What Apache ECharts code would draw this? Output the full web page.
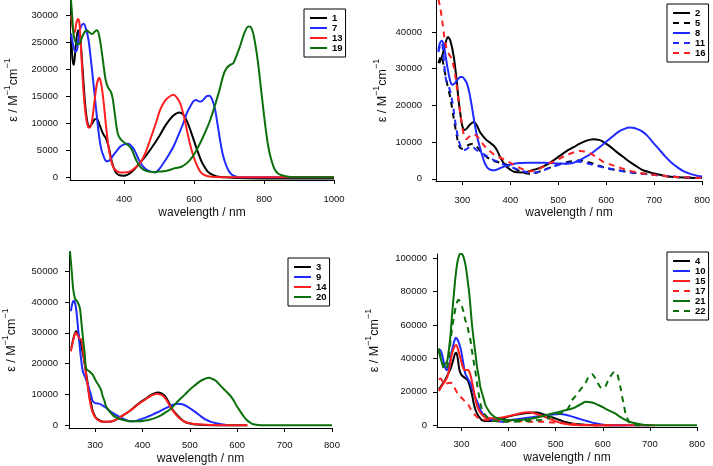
<!DOCTYPE html>
<html><head><meta charset="utf-8">
<script src="https://cdn.jsdelivr.net/npm/echarts@6/dist/echarts.min.js"></script>
<style>html,body{margin:0;padding:0;background:#fff}#c{width:713px;height:466px}</style>
</head><body><div id="c"></div>
<script>
// ---- Panel A (top-left): compounds 1, 7, 13, 19 ----
const s1 = [[248,26600],[252,22000],[256,20800],[261,24000],[268,27200],[274,26000],[281,20000],[289,13000],[296,9800],[301,9400],[308,9900],[315,10700],[322,10800],[330,9600],[340,8000],[348,7200],[356,5500],[365,2800],[375,1000],[385,400],[398,300],[410,500],[425,1200],[440,2300],[460,3800],[480,5600],[500,7600],[520,9800],[540,11400],[558,12000],[570,11500],[580,10300],[590,8600],[600,6700],[610,4800],[620,3100],[630,1900],[640,1000],[655,400],[670,100],[690,0],[720,-150],[800,-200],[1000,-200]];
const s7 = [[248,26500],[254,24500],[260,23200],[265,23600],[270,26000],[277,28000],[284,28400],[290,27600],[298,25400],[305,21600],[312,17400],[320,12400],[327,8200],[334,5300],[341,3900],[347,3100],[353,2950],[361,3400],[370,4200],[380,5000],[389,5700],[400,6100],[412,6200],[422,5700],[431,4800],[440,3500],[450,2300],[462,1500],[474,1100],[489,900],[500,1500],[512,2600],[526,4000],[541,5700],[555,7800],[569,10000],[580,12000],[589,13100],[597,14000],[605,14300],[612,14100],[619,14000],[627,14400],[636,15000],[644,15100],[652,14300],[660,12500],[667,9800],[674,6950],[681,4500],[689,2650],[698,1300],[707,500],[718,150],[731,0],[1000,0]];
const s13 = [[248,30000],[253,27500],[258,26800],[263,28500],[268,29300],[272,28500],[276,24500],[281,18500],[286,14000],[291,11000],[297,9300],[302,9200],[308,10500],[315,14000],[322,17300],[329,18400],[335,17000],[341,14000],[348,9500],[355,5700],[362,3200],[370,1700],[380,1100],[389,900],[400,900],[417,1100],[430,1700],[446,2700],[460,4400],[474,6900],[490,9900],[503,12500],[517,14200],[531,15000],[541,15250],[550,14800],[560,13700],[570,11500],[579,8800],[588,6200],[598,3900],[608,2200],[617,1100],[627,500],[640,200],[660,50],[700,0],[1000,0]];
const s19 = [[247,33500],[251,30000],[255,26500],[260,25200],[266,24600],[272,24700],[280,26000],[287,26900],[293,27200],[300,26800],[308,26500],[315,26900],[322,27200],[327,26600],[333,24500],[340,21200],[347,18000],[354,16600],[362,15800],[367,14600],[372,12300],[377,9800],[382,8000],[390,7000],[403,6300],[412,5900],[422,5100],[430,3800],[436,2950],[445,2000],[455,1400],[470,1050],[484,1000],[498,1050],[512,1100],[527,1300],[541,1600],[555,1800],[565,2000],[577,2500],[589,3250],[603,4600],[617,6300],[632,8400],[646,10600],[660,13400],[674,16500],[684,19000],[693,20200],[703,20800],[712,21100],[720,22300],[731,24200],[743,26600],[755,27900],[762,27800],[769,26600],[777,23800],[784,20500],[791,16500],[798,12500],[805,8800],[812,5700],[820,3400],[831,1400],[842,600],[855,300],[870,100],[884,0],[1000,0]];

// ---- Panel B (top-right): compounds 2, 5, 8, 11, 16 ----
const s2 = [[252,31500],[258,33500],[264,36500],[270,38600],[275,37600],[282,33300],[288,27000],[292,21500],[296,17500],[300,14300],[305,13300],[310,13800],[316,14800],[324,15500],[330,14600],[336,12900],[343,11600],[350,10600],[358,9800],[367,8800],[373,7600],[380,5600],[391,3400],[400,2500],[408,1900],[422,1700],[436,1900],[449,2450],[463,3000],[477,3900],[490,5000],[504,6300],[518,7600],[532,8600],[545,9600],[559,10400],[573,10800],[585,10600],[593,10150],[607,8900],[621,7400],[635,6000],[648,4700],[662,3500],[675,2450],[690,1800],[703,1350],[730,650],[764,350],[800,200]];
const s5 = [[250,31500],[256,33500],[262,30000],[268,26000],[275,22000],[282,16500],[288,12000],[293,9000],[299,8200],[305,8500],[312,9200],[320,9500],[328,9000],[340,7200],[350,6000],[360,5200],[370,4700],[381,4300],[391,3900],[401,3350],[415,2400],[429,1550],[442,1350],[456,1700],[470,2450],[484,3100],[497,3800],[511,4300],[525,4700],[545,5000],[559,4700],[573,4100],[587,3500],[600,2900],[620,2400],[641,2000],[662,1600],[682,1350],[705,1000],[730,650],[760,400],[800,200]];
const s8 = [[250,35000],[253,36800],[257,37600],[261,36500],[265,33500],[270,29500],[275,26500],[279,25600],[284,26000],[290,27000],[296,27700],[300,27700],[305,27000],[310,25800],[315,23200],[320,19500],[325,15500],[330,12000],[336,8800],[341,6500],[347,4200],[353,2900],[360,2400],[367,2300],[377,2800],[388,3400],[398,3800],[408,4100],[422,4300],[436,4400],[450,4400],[463,4400],[477,4300],[490,4250],[504,4150],[518,4100],[530,4300],[538,4700],[548,5300],[559,6100],[569,6900],[579,7900],[590,9000],[600,10100],[613,11500],[627,12900],[638,13600],[648,14000],[655,13900],[664,13600],[675,12900],[686,11700],[696,10150],[710,8100],[723,6100],[737,4300],[751,2900],[762,2000],[771,1550],[785,1000],[800,600]];
const s11 = [[250,34500],[254,36500],[257,37000],[260,34500],[264,28500],[268,26000],[272,25000],[277,22500],[282,18500],[287,14000],[292,10600],[297,8600],[302,7800],[308,8000],[314,8600],[320,8900],[326,8200],[333,7500],[340,7000],[347,6500],[357,5700],[367,5000],[378,4400],[388,3800],[398,3200],[408,2900],[418,2400],[429,2000],[439,1600],[451,1700],[463,2000],[477,2700],[490,3350],[504,3900],[518,4250],[530,4550],[538,4700],[548,4600],[559,4250],[572,3800],[586,3350],[603,2900],[621,2450],[638,2000],[655,1700],[676,1350],[696,1100],[716,850],[737,650],[765,400],[800,200]];
const s16 = [[250,49000],[254,46500],[258,43000],[262,39000],[267,35500],[272,34000],[277,32800],[282,30500],[287,26500],[292,21500],[296,17500],[300,14000],[304,11500],[308,10800],[313,11300],[319,12000],[325,12000],[333,11200],[340,10000],[347,8800],[357,7600],[367,6500],[378,5800],[388,5200],[398,4500],[408,3800],[418,3100],[429,2450],[442,2000],[452,2300],[463,2900],[476,3800],[490,4700],[504,5600],[518,6500],[530,7100],[545,7600],[556,7400],[566,7000],[580,5900],[593,4700],[607,4000],[621,3350],[635,2750],[648,2250],[665,1750],[682,1350],[705,1000],[730,650],[765,400],[800,200]];

// ---- Panel C (bottom-left): compounds 3, 9, 14, 20 ----
const s3 = [[250,25000],[255,28500],[260,30500],[264,29800],[267,27800],[271,25800],[274,23500],[278,20000],[281,17000],[285,13000],[288,9500],[292,6800],[295,4600],[299,3200],[302,2400],[307,1800],[313,1300],[321,1100],[330,1100],[340,1500],[352,2500],[362,3500],[373,4600],[383,5900],[394,7300],[405,8400],[415,9500],[425,10300],[433,10600],[440,10300],[447,9500],[454,7900],[461,5700],[468,4200],[475,3000],[482,1900],[489,1100],[496,700],[503,500],[515,200],[530,50],[550,0],[620,0]];
const s9 = [[249,37000],[252,39500],[255,40400],[258,39500],[261,36500],[265,30000],[269,23500],[274,17600],[278,16000],[281,14800],[285,13200],[288,11600],[292,9500],[295,7800],[299,7300],[302,7100],[308,7000],[313,6700],[318,6200],[323,5700],[330,4800],[337,4000],[346,3200],[355,2400],[364,1800],[373,1300],[383,1300],[394,1800],[405,2400],[415,3000],[426,3800],[437,4600],[447,5400],[458,6200],[466,6700],[475,7000],[484,6800],[493,6200],[503,5200],[514,4000],[524,2800],[535,1700],[546,1000],[556,650],[566,300],[577,100]];
const s14 = [[249,24000],[253,27000],[257,29500],[260,30000],[263,29200],[267,28200],[271,27800],[274,25000],[278,20300],[281,16300],[285,12200],[288,8800],[292,5700],[296,3800],[302,2200],[308,1500],[313,1200],[321,1100],[330,1100],[340,1500],[352,2500],[362,3500],[373,4600],[383,5800],[394,7100],[405,8200],[415,9300],[422,9800],[430,10200],[437,10000],[444,9500],[451,8100],[458,6200],[465,4600],[472,3200],[479,2200],[486,1400],[493,900],[500,650],[510,400],[525,200],[545,50],[570,0],[622,0]];
const s20 = [[247,56500],[249,53000],[251,49400],[254,44000],[258,41000],[263,40000],[268,38000],[272,32000],[275,27500],[278,23400],[281,18500],[285,17800],[288,17500],[295,16400],[302,14300],[309,12600],[313,11300],[316,9500],[320,7800],[323,6200],[328,5000],[333,4000],[338,3200],[344,2600],[351,2100],[358,1800],[373,1300],[394,1300],[405,1500],[415,1800],[426,2300],[437,3000],[447,4000],[458,5100],[468,6700],[479,8400],[490,10000],[500,11600],[511,13000],[522,14300],[531,15000],[540,15400],[548,15000],[556,14300],[566,12600],[577,10900],[584,9800],[591,8400],[598,6500],[606,4600],[613,3000],[620,1700],[627,900],[634,300],[645,80],[655,0],[800,0]];

// ---- Panel D (bottom-right): compounds 4, 10, 15, 17, 21, 22 ----
const s4 = [[252,21500],[258,24000],[265,27000],[272,31000],[277,34000],[282,38500],[286,42500],[289,43400],[292,40000],[295,34000],[299,30500],[304,29000],[309,28000],[314,26500],[319,22000],[323,17500],[326,13000],[330,9000],[335,6000],[340,4200],[344,3000],[351,2600],[358,2600],[367,2800],[376,3000],[387,4000],[397,5000],[408,5800],[418,6400],[428,6900],[439,7400],[450,7600],[460,7600],[470,7000],[480,6000],[490,5000],[500,4000],[510,3000],[520,2000],[535,1100],[550,600],[570,200],[600,0],[650,0]];
const s10 = [[252,44000],[255,45000],[259,42000],[263,37000],[266,34000],[270,33000],[275,37500],[280,45000],[284,49500],[288,52400],[292,51000],[298,46000],[303,38500],[308,31000],[313,28000],[319,25000],[324,21000],[329,17000],[335,13000],[340,9200],[346,6500],[351,4800],[358,3800],[365,3200],[374,2600],[383,2200],[393,2500],[404,3200],[418,3700],[432,4200],[450,4900],[467,5600],[485,6200],[502,6600],[509,6700],[521,6300],[535,5200],[549,4000],[563,2800],[574,1900],[584,1200],[595,600],[605,200],[620,0],[700,0]];
const s15 = [[252,20500],[256,22500],[263,25500],[270,29000],[275,35000],[280,43000],[285,47000],[289,48000],[292,46000],[296,42000],[300,37500],[304,34000],[308,33000],[312,33000],[316,32500],[320,29000],[323,25000],[326,21000],[330,15000],[334,11000],[337,9000],[342,6800],[348,5200],[355,4500],[362,4200],[372,4300],[383,4600],[394,5100],[404,5800],[415,6500],[425,7200],[434,7600],[443,7800],[452,7400],[460,6800],[471,5700],[481,4600],[491,3400],[502,2200],[512,1400],[523,800],[533,400],[544,200],[560,50],[580,0],[710,0]];
const s17 = [[252,27500],[256,28000],[260,26000],[264,24500],[270,25200],[277,25400],[282,24500],[287,21500],[294,18000],[300,16500],[305,15000],[310,13500],[315,12000],[320,9500],[326,7000],[331,5500],[337,4200],[346,3500],[355,3200],[369,3000],[383,2800],[397,2700],[411,2600],[425,2400],[439,2200],[453,2200],[467,2200],[483,1900],[500,1600],[517,1200],[535,800],[552,400],[570,100],[590,0],[620,0]];
const s21 = [[252,46000],[255,41000],[259,37000],[263,36000],[267,37000],[270,39000],[274,47000],[277,55000],[280,66000],[284,79000],[287,88000],[291,97000],[295,101500],[298,102800],[302,102000],[305,100000],[309,95000],[312,89000],[316,80000],[319,71000],[322,61000],[326,51000],[330,42000],[333,35000],[337,28500],[340,23000],[346,17000],[351,12000],[357,9000],[362,7000],[369,5300],[376,4200],[386,3500],[397,3200],[411,3100],[425,3200],[439,3600],[453,4200],[467,5100],[481,6200],[495,7200],[509,8200],[523,9200],[537,10200],[549,12000],[556,13000],[563,14100],[570,14000],[577,13600],[584,13000],[594,11700],[605,10000],[616,8500],[627,7000],[637,5000],[648,3200],[658,2000],[669,1200],[680,600],[690,200],[700,0],[800,0]];
const s22 = [[252,44000],[256,40000],[260,36000],[264,33000],[268,34000],[272,38000],[277,51000],[281,60000],[284,65000],[288,71000],[291,74000],[294,75000],[298,73000],[301,71000],[305,67000],[308,63000],[312,60000],[315,56000],[319,51000],[322,45000],[326,38000],[330,31000],[333,25000],[337,18000],[342,11000],[348,7000],[355,4800],[362,3200],[372,2600],[383,2200],[397,2100],[411,2200],[425,2400],[439,2600],[453,2900],[467,3200],[480,4000],[490,5000],[500,6200],[510,7200],[521,8200],[528,11000],[535,15100],[542,17500],[549,20100],[556,22500],[563,25100],[570,29100],[577,30700],[582,29000],[588,26100],[593,23500],[598,22100],[605,23100],[610,26000],[616,29100],[622,31500],[627,32000],[631,30500],[634,27100],[638,22000],[641,17100],[645,12000],[648,7200],[652,4500],[655,2200],[659,1200],[662,600],[670,200],[680,0]];

// tick values
const xTicksA = [400, 600, 800, 1000];
const xTicksB = [300, 400, 500, 600, 700, 800];
const yTicksA = [0, 5000, 10000, 15000, 20000, 25000, 30000];
const yTicksB = [0, 10000, 20000, 30000, 40000];
const yTicksC = [0, 10000, 20000, 30000, 40000, 50000];
const yTicksD = [0, 20000, 40000, 60000, 80000, 100000];

const COL = { k: '#000000', b: '#1f2bff', r: '#ff1f1f', g: '#0b700b' };
const FONT = 'Liberation Sans';

const panels = [
  { grid: { left: 70, top: 0, width: 264, height: 180 }, x: [245, 1000], xt: xTicksA, y: [-500, 32800], yt: yTicksA,
    yGap: 50, xGap: 27, xm: 14, ym: 12, legend: { left: 304, top: 9 },
    series: [['1', s1, 'k', 'solid'], ['7', s7, 'b', 'solid'], ['13', s13, 'r', 'solid'], ['19', s19, 'g', 'solid']] },
  { grid: { left: 436, top: 0, width: 267, height: 181 }, x: [245, 800], xt: xTicksB, y: [-600, 48700], yt: yTicksB,
    yGap: 47, xGap: 26, xm: 14, ym: 14, legend: { left: 667, top: 4 },
    series: [['2', s2, 'k', 'solid'], ['5', s5, 'k', 'dashed'], ['8', s8, 'b', 'solid'], ['11', s11, 'b', 'dashed'], ['16', s16, 'r', 'dashed']] },
  { grid: { left: 69, top: 252, width: 263, height: 177 }, x: [245, 800], xt: xTicksB, y: [-900, 56200], yt: yTicksC,
    yGap: 51, xGap: 25, xm: 12, ym: 11, legend: { left: 288, top: 258 },
    series: [['3', s3, 'k', 'solid'], ['9', s9, 'b', 'solid'], ['14', s14, 'r', 'solid'], ['20', s20, 'g', 'solid']] },
  { grid: { left: 437, top: 254, width: 260, height: 173 }, x: [248, 800], xt: xTicksB, y: [-1000, 102400], yt: yTicksD,
    yGap: 56, xGap: 25, xm: 12, ym: 10, legend: { left: 667, top: 252 },
    series: [['4', s4, 'k', 'solid'], ['10', s10, 'b', 'solid'], ['15', s15, 'r', 'solid'], ['17', s17, 'r', 'dashed'], ['21', s21, 'g', 'solid'], ['22', s22, 'g', 'dashed']] }
];

const grid = [], xAxis = [], yAxis = [], legend = [], series = [];
panels.forEach((p, i) => {
  grid.push(p.grid);
  xAxis.push({
    gridIndex: i, type: 'value', min: p.x[0], max: p.x[1],
    axisLine: { onZero: false, lineStyle: { color: '#000', width: 1 } },
    axisTick: { customValues: p.xt, length: 4, lineStyle: { color: '#000' } },
    axisLabel: { customValues: p.xt, formatter: v => String(v), color: '#111', fontSize: 9.5, fontFamily: FONT, margin: p.xm },
    splitLine: { show: false },
    name: 'wavelength / nm', nameLocation: 'middle', nameGap: p.xGap,
    nameTextStyle: { fontSize: 12, color: '#111', fontFamily: FONT }
  });
  yAxis.push({
    gridIndex: i, type: 'value', min: p.y[0], max: p.y[1],
    axisLine: { onZero: false, lineStyle: { color: '#000', width: 1 } },
    axisTick: { customValues: p.yt, length: 4, lineStyle: { color: '#000' } },
    axisLabel: { customValues: p.yt, formatter: v => String(v), color: '#111', fontSize: 9.5, fontFamily: FONT, margin: p.ym },
    splitLine: { show: false },
    name: '{n|ε / M}{s|−1}{n|cm}{s|−1}', nameLocation: 'middle', nameGap: p.yGap, nameRotate: 90,
    nameTextStyle: {
      color: '#111', fontFamily: FONT, fontSize: 12,
      rich: {
        n: { fontSize: 12.5, color: '#111', fontFamily: FONT, lineHeight: 17, verticalAlign: 'bottom' },
        s: { fontSize: 9, color: '#111', fontFamily: FONT, lineHeight: 17, verticalAlign: 'top' }
      }
    }
  });
  legend.push({
    orient: 'vertical', left: p.legend.left, top: p.legend.top,
    data: p.series.map(s => s[0]), selectedMode: false,
    borderColor: '#000', borderWidth: 1, borderRadius: 0, padding: [4, 3, 4, 5],
    itemWidth: 17, itemHeight: 10, itemGap: 0,
    itemStyle: { opacity: 0, borderWidth: 0 },
    textStyle: { fontSize: 9.5, lineHeight: 10, fontWeight: 'bold', color: '#000', fontFamily: FONT }
  });
  p.series.forEach(s => {
    series.push({
      name: s[0], type: 'line', xAxisIndex: i, yAxisIndex: i,
      data: s[1], symbol: 'none', smooth: 0.3, clip: true,
      lineStyle: { color: COL[s[2]], width: 2, type: s[3] === 'dashed' ? [6, 5] : 'solid' },
      itemStyle: { color: COL[s[2]] },
      emphasis: { disabled: true }
    });
  });
});

const chart = echarts.init(document.getElementById('c'), null, { renderer: 'canvas' });
chart.setOption({ animation: false, backgroundColor: '#fff', grid, xAxis, yAxis, legend, series });
</script>
</body></html>
